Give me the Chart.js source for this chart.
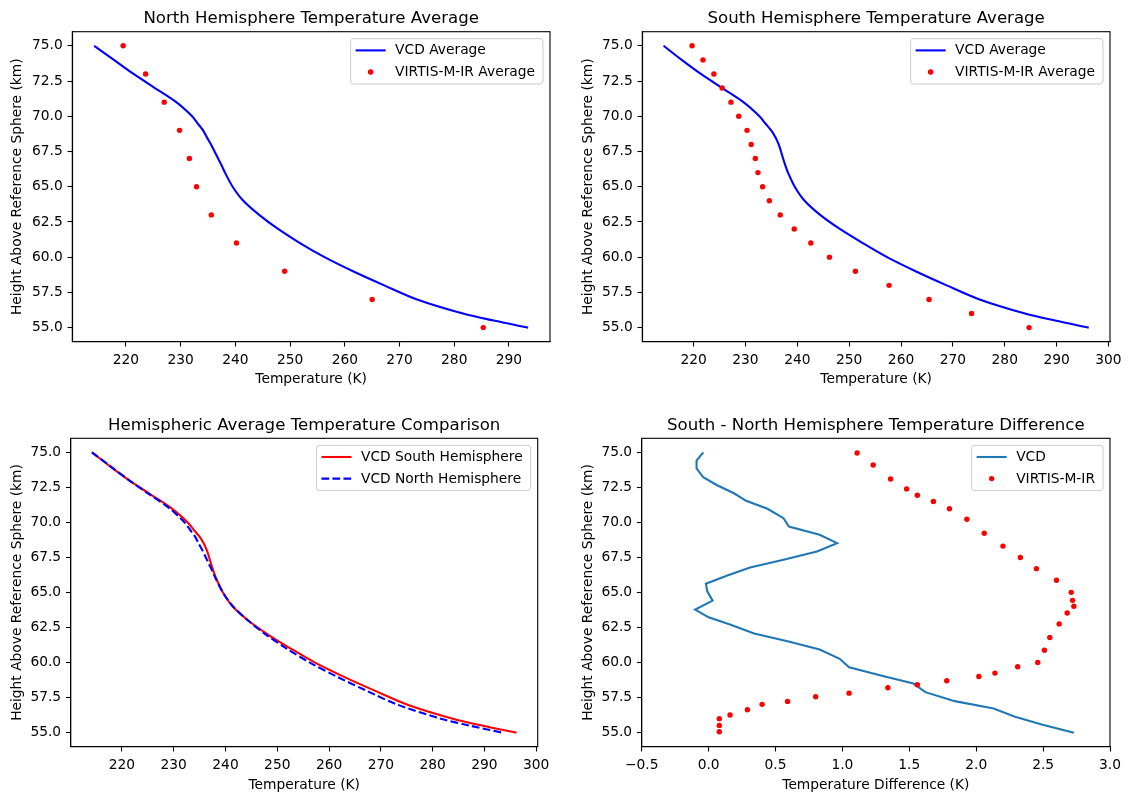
<!DOCTYPE html>
<html>
<head>
<meta charset="utf-8">
<title>Hemisphere Temperature Averages</title>
<script src="https://cdn.jsdelivr.net/npm/chart.js@4.4.1/dist/chart.umd.min.js"></script>
<style>
  html, body { margin: 0; padding: 0; background: #fff; }
  #fig { position: relative; width: 1128px; height: 794px; background: #fff; overflow: hidden; }
  #fig canvas { position: absolute; }
</style>
</head>
<body>
<div id="fig">
  <canvas id="northChart"></canvas>
  <canvas id="southChart"></canvas>
  <canvas id="compareChart"></canvas>
  <canvas id="diffChart"></canvas>
</div>
<script>
// ── Data ──

// VCD model profiles, height (km) vs temperature (K)
const VCD_HEIGHT = [75, 74, 73, 72, 71, 70, 69.5, 69, 68.5, 68, 67.5, 67, 66.5, 66, 65, 64, 63, 62, 61, 60, 59, 58, 57, 56, 55.5, 55];
const VCD_NORTH_T = [214.2, 217.8, 221.4, 225.3, 229.2, 232.1, 233.1, 234.1, 234.8, 235.55, 236.2, 236.85, 237.5, 238.1, 239.5, 241.45, 244.35, 247.8, 251.8, 256.3, 261.5, 267.2, 273.2, 281.6, 287.2, 293.5];
const VCD_SOUTH_T = [214.2, 217.7, 221.4, 225.5, 229.6, 232.7, 233.8, 234.95, 235.8, 236.4, 236.85, 237.25, 237.7, 238.2, 239.5, 241.4, 244.4, 248.2, 252.6, 257.3, 262.8, 268.8, 275.15, 283.9, 289.7, 296.2];

// VIRTIS-M-IR averages
const VIRTIS_NORTH_HEIGHT = [75, 73, 71, 69, 67, 65, 63, 61, 59, 57, 55];
const VIRTIS_NORTH_T = [219.5, 223.6, 227.0, 229.8, 231.6, 232.9, 235.6, 240.2, 249.0, 265.0, 285.3];
const VIRTIS_SOUTH_HEIGHT = [75, 74, 73, 72, 71, 70, 69, 68, 67, 66, 65, 64, 63, 62, 61, 60, 59, 58, 57, 56, 55];
const VIRTIS_SOUTH_T = [219.7, 221.8, 223.9, 225.5, 227.2, 228.7, 230.3, 231.1, 231.9, 232.4, 233.3, 234.6, 236.7, 239.4, 242.6, 246.2, 251.2, 257.7, 265.4, 273.6, 284.7];

// South - North differences
const DIFF_VCD_HEIGHT = [75, 74.41, 73.86, 73.22, 72.67, 72.08, 71.54, 70.97, 70.30, 69.71, 69.12, 68.52, 67.93, 67.34, 66.79, 66.22, 65.63, 65.08, 64.42, 63.78, 63.23, 62.71, 62.07, 61.52, 60.93, 60.27, 59.67, 59.03, 58.51, 57.89, 57.25, 56.73, 56.14, 55.59, 55];
const DIFF_VCD_K = [-0.04, -0.09, -0.09, -0.04, 0.06, 0.19, 0.28, 0.44, 0.56, 0.60, 0.83, 0.96, 0.81, 0.56, 0.31, 0.14, -0.02, -0.01, 0.03, -0.10, 0.0, 0.16, 0.34, 0.59, 0.83, 0.98, 1.05, 1.31, 1.53, 1.62, 1.84, 2.13, 2.29, 2.49, 2.73];
const DIFF_VIRTIS_HEIGHT = [74.95, 74.10, 73.10, 72.39, 71.94, 71.49, 70.97, 70.23, 69.23, 68.31, 67.50, 66.70, 65.87, 65.01, 64.44, 64.02, 63.54, 62.76, 61.79, 60.88, 60.01, 59.70, 59.25, 59.01, 58.70, 58.42, 58.20, 57.82, 57.56, 57.23, 57.02, 56.64, 56.26, 56.00, 55.52, 55.07];
const DIFF_VIRTIS_K = [1.11, 1.23, 1.36, 1.48, 1.56, 1.68, 1.80, 1.93, 2.06, 2.20, 2.33, 2.45, 2.60, 2.71, 2.72, 2.73, 2.68, 2.62, 2.55, 2.51, 2.46, 2.31, 2.14, 2.02, 1.78, 1.56, 1.34, 1.05, 0.80, 0.59, 0.40, 0.29, 0.16, 0.08, 0.08, 0.08];

// Tick values
const HEIGHT_TICKS = [55, 57.5, 60, 62.5, 65, 67.5, 70, 72.5, 75];
const TEMP_TICKS_NORTH = [220, 230, 240, 250, 260, 270, 280, 290];
const TEMP_TICKS = [220, 230, 240, 250, 260, 270, 280, 290, 300];
const DIFF_TICKS = [-0.5, 0, 0.5, 1.0, 1.5, 2.0, 2.5, 3.0];

// ── Style ──

const FONT = '"DejaVu Sans", "Liberation Sans", sans-serif';
const FS = 13.8;          // tick / label / legend size
const TITLE_FS = 16.6;
const LW = 2.1;           // line width
const SPINE = 1.1;
const TICK_LEN = 4.8;

function pts(xs, ys) {
  return xs.map(function (x, i) { return { x: x, y: ys[i] }; });
}

// draws full box, subplot title and a matplotlib-like legend
const mplDecor = {
  id: "mplDecor",
  afterDatasetsDraw: function (chart, args, opts) {
    var ctx = chart.ctx;
    var a = chart.chartArea;
    ctx.save();
    ctx.strokeStyle = "#000";
    ctx.lineWidth = SPINE;
    ctx.setLineDash([]);
    ctx.strokeRect(a.left, a.top, a.right - a.left, a.bottom - a.top);

    ctx.fillStyle = "#000";
    ctx.font = TITLE_FS + "px " + FONT;
    ctx.textAlign = "center";
    ctx.textBaseline = "alphabetic";
    ctx.fillText(opts.title, (a.left + a.right) / 2, a.top - 8.3);

    var items = opts.legend || [];
    ctx.font = FS + "px " + FONT;
    var maxW = 0;
    items.forEach(function (it) { maxW = Math.max(maxW, ctx.measureText(it.label).width); });
    var boxW = 44.5 + maxW + 8;
    var boxH = 23.7 + 21.6 * (items.length - 1);
    var x0 = a.right - 7 - boxW;
    var y0 = a.top + 7;
    ctx.beginPath();
    ctx.roundRect(x0, y0, boxW, boxH, 3);
    ctx.fillStyle = "rgba(255,255,255,0.8)";
    ctx.fill();
    ctx.strokeStyle = "#cccccc";
    ctx.lineWidth = 1;
    ctx.stroke();

    items.forEach(function (it, i) {
      var cy = y0 + 11.7 + 21.6 * i;
      if (it.kind === "line") {
        ctx.beginPath();
        ctx.setLineDash(it.dash || []);
        ctx.strokeStyle = it.color;
        ctx.lineWidth = LW;
        ctx.moveTo(x0 + 5, cy);
        ctx.lineTo(x0 + 35, cy);
        ctx.stroke();
        ctx.setLineDash([]);
      } else {
        ctx.beginPath();
        ctx.fillStyle = it.color;
        ctx.arc(x0 + 20, cy, 2.7, 0, Math.PI * 2);
        ctx.fill();
      }
      ctx.fillStyle = "#000";
      ctx.textAlign = "left";
      ctx.textBaseline = "middle";
      ctx.fillText(it.label, x0 + 44.5, cy + 0.5);
    });
    ctx.restore();
  },
};

function fmtOne(v) {
  var s = Number(v).toFixed(1);
  return s.charAt(0) === "-" ? "\u2212" + s.slice(1) : s;
}

// box = canvas rect; plot = wanted chart area (page px)
function makeChart(id, box, plot, cfg) {
  var el = document.getElementById(id);
  el.width = box.w;
  el.height = box.h;
  el.style.left = box.x + "px";
  el.style.top = box.y + "px";
  el.style.width = box.w + "px";
  el.style.height = box.h + "px";

  var yAxisW = plot.left - box.x;
  var xAxisH = box.y + box.h - plot.bottom;
  var tickFont = { family: FONT, size: FS };

  return new Chart(el.getContext("2d"), {
    type: "scatter",
    data: { datasets: cfg.datasets },
    plugins: [mplDecor],
    options: {
      responsive: false,
      animation: false,
      events: [],
      layout: { padding: { left: 0, bottom: 0, top: plot.top - box.y, right: box.x + box.w - plot.right } },
      plugins: {
        legend: { display: false },
        tooltip: { enabled: false },
        mplDecor: { title: cfg.title, legend: cfg.legend },
      },
      scales: {
        x: {
          type: "linear",
          min: cfg.xMin,
          max: cfg.xMax,
          afterBuildTicks: function (s) { s.ticks = cfg.xTicks.map(function (v) { return { value: v }; }); },
          afterFit: function (s) { s.height = xAxisH; },
          ticks: { font: tickFont, color: "#000", padding: 6, maxRotation: 0, autoSkip: false, callback: cfg.xFmt },
          grid: { drawOnChartArea: false, drawTicks: true, tickLength: TICK_LEN, tickColor: "#000", tickWidth: SPINE },
          border: { display: true, color: "#000", width: SPINE },
          title: { display: true, text: cfg.xTitle, font: tickFont, color: "#000", padding: { top: 0, bottom: cfg.xTitlePad } },
        },
        y: {
          type: "linear",
          min: 54,
          max: 76,
          afterBuildTicks: function (s) { s.ticks = HEIGHT_TICKS.map(function (v) { return { value: v }; }); },
          afterFit: function (s) { s.width = yAxisW; },
          ticks: { font: tickFont, color: "#000", padding: 4.8, autoSkip: false, callback: fmtOne },
          grid: { drawOnChartArea: false, drawTicks: true, tickLength: TICK_LEN, tickColor: "#000", tickWidth: SPINE },
          border: { display: true, color: "#000", width: SPINE },
          title: { display: true, text: "Height Above Reference Sphere (km)", font: tickFont, color: "#000", padding: { top: cfg.yTitlePad, bottom: 0 } },
        },
      },
    },
  });
}

function lineSet(xs, ys, color, extra) {
  var d = {
    data: pts(xs, ys),
    showLine: true,
    pointRadius: 0,
    borderColor: color,
    backgroundColor: color,
    borderWidth: LW,
    tension: 0.3,
    clip: false,
    order: 2,
  };
  for (var k in extra) d[k] = extra[k];
  return d;
}

function dotSet(xs, ys) {
  return {
    data: pts(xs, ys),
    showLine: false,
    pointRadius: 2.7,
    pointBorderWidth: 0,
    pointBackgroundColor: "#ff0000",
    pointBorderColor: "#ff0000",
    clip: false,
    order: 1,
  };
}

function fmtInt(v) { return String(v); }

makeChart("northChart", { x: 0, y: 0, w: 564, h: 394 }, { left: 72.3, right: 550, top: 31.7, bottom: 341.7 }, {
  title: "North Hemisphere Temperature Average",
  xTitle: "Temperature (K)", xTitlePad: 6.7, yTitlePad: 8.9,
  xMin: 210.2, xMax: 297.5, xTicks: TEMP_TICKS_NORTH, xFmt: fmtInt,
  datasets: [
    lineSet(VCD_NORTH_T, VCD_HEIGHT, "#0000ff"),
    dotSet(VIRTIS_NORTH_T, VIRTIS_NORTH_HEIGHT),
  ],
  legend: [
    { kind: "line", label: "VCD Average", color: "#0000ff" },
    { kind: "dot", label: "VIRTIS-M-IR Average", color: "#ff0000" },
  ],
});

makeChart("southChart", { x: 564, y: 0, w: 564, h: 394 }, { left: 642.3, right: 1110, top: 31.7, bottom: 341.7 }, {
  title: "South Hemisphere Temperature Average",
  xTitle: "Temperature (K)", xTitlePad: 6.7, yTitlePad: 16.4,
  xMin: 210.1, xMax: 300.3, xTicks: TEMP_TICKS, xFmt: fmtInt,
  datasets: [
    lineSet(VCD_SOUTH_T, VCD_HEIGHT, "#0000ff"),
    dotSet(VIRTIS_SOUTH_T, VIRTIS_SOUTH_HEIGHT),
  ],
  legend: [
    { kind: "line", label: "VCD Average", color: "#0000ff" },
    { kind: "dot", label: "VIRTIS-M-IR Average", color: "#ff0000" },
  ],
});

makeChart("compareChart", { x: 0, y: 400, w: 564, h: 394 }, { left: 70.7, right: 537.7, top: 438.3, bottom: 746.7 }, {
  title: "Hemispheric Average Temperature Comparison",
  xTitle: "Temperature (K)", xTitlePad: 0.6, yTitlePad: 8.9,
  xMin: 210.1, xMax: 300.3, xTicks: TEMP_TICKS, xFmt: fmtInt,
  datasets: [
    lineSet(VCD_SOUTH_T, VCD_HEIGHT, "#ff0000", { order: 2 }),
    lineSet(VCD_NORTH_T, VCD_HEIGHT, "#0000ff", { order: 1, borderDash: [7.7, 3.3] }),
  ],
  legend: [
    { kind: "line", label: "VCD South Hemisphere", color: "#ff0000" },
    { kind: "line", label: "VCD North Hemisphere", color: "#0000ff", dash: [7.7, 3.3] },
  ],
});

makeChart("diffChart", { x: 564, y: 400, w: 564, h: 394 }, { left: 641.7, right: 1110, top: 438.3, bottom: 746.7 }, {
  title: "South - North Hemisphere Temperature Difference",
  xTitle: "Temperature Difference (K)", xTitlePad: 0.6, yTitlePad: 16.4,
  xMin: -0.5, xMax: 3.0, xTicks: DIFF_TICKS, xFmt: fmtOne,
  datasets: [
    lineSet(DIFF_VCD_K, DIFF_VCD_HEIGHT, "#1f77b4", { tension: 0 }),
    dotSet(DIFF_VIRTIS_K, DIFF_VIRTIS_HEIGHT),
  ],
  legend: [
    { kind: "line", label: "VCD", color: "#1f77b4" },
    { kind: "dot", label: "VIRTIS-M-IR", color: "#ff0000" },
  ],
});
</script>
</body>
</html>
